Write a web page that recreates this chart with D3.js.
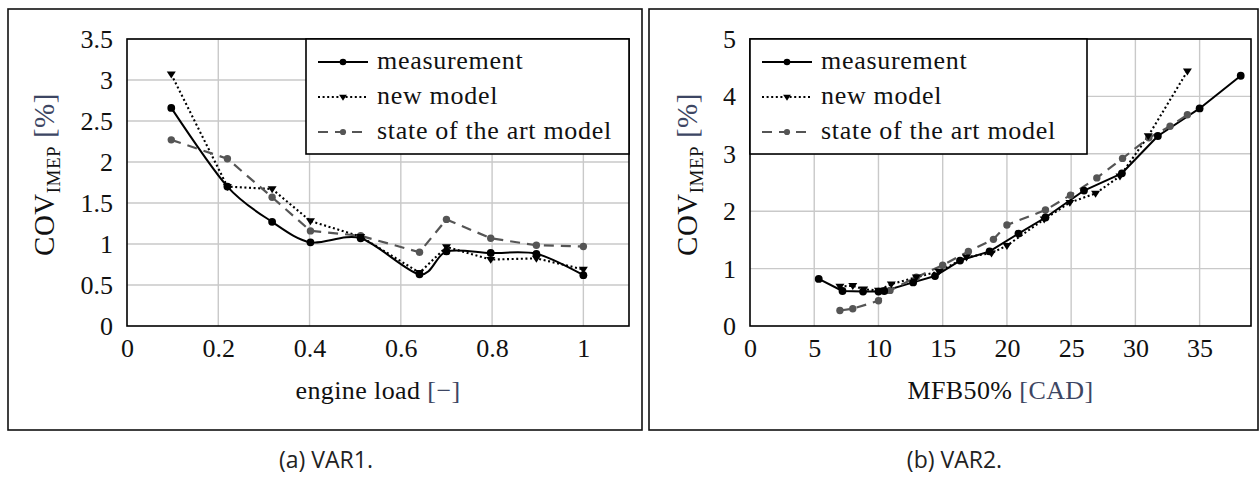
<!DOCTYPE html>
<html>
<head>
<meta charset="utf-8">
<script src="https://cdn.jsdelivr.net/npm/d3@7"></script>
<style>
  html, body { margin: 0; padding: 0; background: #fff; }
  svg { display: block; }
</style>
</head>
<body>
<svg id="fig" width="1260" height="477"></svg>
<script>
// ---- VAR1: COV of IMEP vs. engine load ----
const loadX = [0.097, 0.22, 0.318, 0.402, 0.512, 0.641, 0.70, 0.797, 0.897, 1.0];
const var1Measurement = [2.66, 1.70, 1.27, 1.02, 1.07, 0.63, 0.91, 0.89, 0.88, 0.62];
const var1NewModel    = [3.07, 1.70, 1.67, 1.28, 1.09, 0.65, 0.965, 0.81, 0.825, 0.69];
const var1StateOfArt  = [2.27, 2.04, 1.57, 1.16, 1.10, 0.90, 1.30, 1.07, 0.985, 0.97];
const var1XTicks = [0, 0.2, 0.4, 0.6, 0.8, 1];
const var1YTicks = [0, 0.5, 1, 1.5, 2, 2.5, 3, 3.5];

// ---- VAR2: COV of IMEP vs. MFB50% ----
const var2MeasX = [5.35, 7.2, 8.8, 10.0, 10.45, 12.7, 14.4, 16.35, 18.65, 20.9, 23.0, 26.0, 28.95, 31.75, 35.0, 38.2];
const var2MeasY = [0.82, 0.61, 0.60, 0.60, 0.61, 0.76, 0.87, 1.14, 1.30, 1.61, 1.89, 2.36, 2.66, 3.31, 3.79, 4.36];
const var2NewX  = [7.0, 8.0, 8.85, 10.0, 11.0, 12.95, 14.7, 16.85, 18.8, 20.0, 22.9, 24.9, 26.9, 28.8, 31.0, 34.05];
const var2NewY  = [0.69, 0.70, 0.64, 0.62, 0.73, 0.85, 0.95, 1.20, 1.27, 1.40, 1.86, 2.15, 2.31, 2.61, 3.31, 4.44];
const var2SotaX = [7.0, 8.0, 10.0, 10.9, 12.95, 15.0, 17.0, 18.95, 20.0, 23.0, 24.95, 27.0, 29.0, 31.05, 32.7, 34.05];
const var2SotaY = [0.27, 0.30, 0.44, 0.62, 0.85, 1.06, 1.30, 1.51, 1.76, 2.02, 2.28, 2.58, 2.92, 3.28, 3.48, 3.68];
const var2XTicks = [0, 5, 10, 15, 20, 25, 30, 35];
const var2YTicks = [0, 1, 2, 3, 4, 5];

const seriesNames = ["measurement", "new model", "state of the art model"];

const SERIF = '"Liberation Serif", "Times New Roman", serif';
const SANS = '"Open Sans", "DejaVu Sans", sans-serif';

const svg = d3.select("#fig");
svg.append("rect").attr("width", 1260).attr("height", 477).attr("fill", "#fff");

const GRID = "#c9c9c9";
const SOTA = "#555555";
const UNIT = "#3d4663";

const styles = [
  { stroke: "#000", width: 2, dash: null, marker: "circle", fill: "#000", r: 3.9 },
  { stroke: "#000", width: 2.1, dash: "2,2.6", marker: "tri", fill: "#000", r: 4 },
  { stroke: SOTA, width: 2.2, dash: "10,7", marker: "circle", fill: SOTA, r: 3.7 }
];

function zip(xs, ys) { return xs.map((x, i) => [x, ys[i]]); }

function drawMarker(g, kind, cx, cy, st) {
  if (kind === "circle") {
    g.append("circle").attr("cx", cx).attr("cy", cy).attr("r", st.r).attr("fill", st.fill);
  } else {
    const s = st.r + 0.5;
    g.append("path")
      .attr("d", `M${cx - s},${cy - s * 0.6}L${cx + s},${cy - s * 0.6}L${cx},${cy + s * 0.95}Z`)
      .attr("fill", st.fill);
  }
}

function drawPanel(cfg) {
  const g = svg.append("g");
  // panel frame
  g.append("rect")
    .attr("x", cfg.frame[0]).attr("y", cfg.frame[1])
    .attr("width", cfg.frame[2] - cfg.frame[0]).attr("height", cfg.frame[3] - cfg.frame[1])
    .attr("fill", "none").attr("stroke", "#111").attr("stroke-width", 1.6);

  const x = d3.scaleLinear().domain(cfg.xDomain).range([cfg.left, cfg.right]);
  const y = d3.scaleLinear().domain(cfg.yDomain).range([cfg.bottom, cfg.top]);

  // grid
  g.append("g").selectAll("line").data(cfg.xTicks.filter(t => t > cfg.xDomain[0])).join("line")
    .attr("x1", d => x(d)).attr("x2", d => x(d)).attr("y1", cfg.top).attr("y2", cfg.bottom)
    .attr("stroke", GRID).attr("stroke-width", 1.4);
  g.append("g").selectAll("line").data(cfg.yTicks.filter(t => t > cfg.yDomain[0])).join("line")
    .attr("x1", cfg.left).attr("x2", cfg.right).attr("y1", d => y(d)).attr("y2", d => y(d))
    .attr("stroke", GRID).attr("stroke-width", 1.4);

  // axes (labels only; frame drawn separately)
  const xAxis = d3.axisBottom(x).tickValues(cfg.xTicks).tickSize(0).tickPadding(9)
    .tickFormat(d3.format("~g"));
  const yAxis = d3.axisLeft(y).tickValues(cfg.yTicks).tickSize(0).tickPadding(14)
    .tickFormat(d3.format("~g"));
  const gx = g.append("g").attr("transform", `translate(0,${cfg.bottom})`).call(xAxis);
  const gy = g.append("g").attr("transform", `translate(${cfg.left},0)`).call(yAxis);
  [gx, gy].forEach(a => {
    a.attr("font-family", SERIF).attr("font-size", 26);
    a.select(".domain").remove();
    a.selectAll("text").attr("font-family", SERIF).style("font-family", SERIF)
      .style("font-size", "26px").attr("fill", "#111");
  });
  gx.selectAll("text").attr("dy", "0.85em");
  gy.selectAll("text").attr("dy", "0.33em");

  // series
  const data = cfg.series;
  data.forEach((pts, i) => {
    const st = styles[i];
    const line = d3.line().x(d => x(d[0])).y(d => y(d[1]))
      .curve(cfg.curves[i]);
    g.append("path").attr("d", line(pts)).attr("fill", "none")
      .attr("stroke", st.stroke).attr("stroke-width", st.width)
      .attr("stroke-dasharray", st.dash).attr("stroke-linejoin", "round");
  });
  // markers drawn after lines, state of the art first so black marks sit on top
  [2, 1, 0].forEach(i => {
    const st = styles[i];
    const mg = g.append("g");
    data[i].forEach(d => drawMarker(mg, st.marker, x(d[0]), y(d[1]), st));
  });

  // plot frame
  g.append("rect").attr("x", cfg.left).attr("y", cfg.top)
    .attr("width", cfg.right - cfg.left).attr("height", cfg.bottom - cfg.top)
    .attr("fill", "none").attr("stroke", "#000").attr("stroke-width", 1.6);

  // legend
  const L = cfg.legend;
  g.append("rect").attr("x", L.x0).attr("y", cfg.top).attr("width", L.x1 - L.x0)
    .attr("height", L.y1 - cfg.top).attr("fill", "#fff")
    .attr("stroke", "#000").attr("stroke-width", 1.6);
  seriesNames.forEach((name, i) => {
    const st = styles[i];
    const cy = L.rows[i];
    const sx0 = L.x0 + 12, sx1 = L.x0 + 62, mx = (sx0 + sx1) / 2;
    g.append("line").attr("x1", sx0).attr("x2", sx1).attr("y1", cy).attr("y2", cy)
      .attr("stroke", st.stroke).attr("stroke-width", st.width)
      .attr("stroke-dasharray", st.dash);
    drawMarker(g, st.marker, mx, cy, Object.assign({}, st, { r: st.r - 0.6 }));
    g.append("text").attr("x", L.x0 + 71).attr("y", cy + 7)
      .style("font-family", SERIF).style("font-size", "26px")
      .attr("letter-spacing", 0.7).attr("fill", "#111").text(name);
  });

  // x axis title
  const xt = g.append("text").style("font-family", SERIF).style("font-size", "26px").attr("fill", "#111")
    .attr("letter-spacing", 0.4)
    .attr("text-anchor", "middle").attr("x", (cfg.left + cfg.right) / 2).attr("y", 399);
  xt.append("tspan").text(cfg.xTitle + " ");
  xt.append("tspan").attr("fill", UNIT).text(cfg.xUnit);

  // y axis title
  const yt = g.append("text").style("font-family", SERIF).style("font-size", "29px").attr("fill", "#111")
    .attr("letter-spacing", 0.5)
    .attr("text-anchor", "middle")
    .attr("transform", `translate(${cfg.yTitleX},${(cfg.top + cfg.bottom) / 2 - 8}) rotate(-90)`);
  yt.append("tspan").text("COV");
  yt.append("tspan").style("font-size", "19px").attr("dy", 6).text("IMEP");
  yt.append("tspan").attr("dy", -6).attr("fill", UNIT).text(" [%]");

  // caption
  g.append("text").style("font-family", SANS).style("font-size", "23px").attr("fill", "#222")
    .attr("text-anchor", "middle").attr("x", (cfg.frame[0] + cfg.frame[2]) / 2 + 1).attr("y", 468)
    .text(cfg.caption);
}

const smooth = d3.curveCardinal.tension(0.1);

drawPanel({
  frame: [8, 9, 642, 430],
  left: 127, right: 629, top: 39, bottom: 326,
  xDomain: [0, 1.1], yDomain: [0, 3.5],
  xTicks: var1XTicks, yTicks: var1YTicks,
  series: [zip(loadX, var1Measurement), zip(loadX, var1NewModel), zip(loadX, var1StateOfArt)],
  curves: [smooth, d3.curveLinear, d3.curveLinear],
  legend: { x0: 306, x1: 629, y1: 154, rows: [62, 97, 132] },
  xTitle: "engine load", xUnit: "[\u2212]",
  yTitleX: 54,
  caption: "(a) VAR1."
});

drawPanel({
  frame: [649, 9, 1258, 430],
  left: 750, right: 1251, top: 39, bottom: 326,
  xDomain: [0, 39], yDomain: [0, 5],
  xTicks: var2XTicks, yTicks: var2YTicks,
  series: [zip(var2MeasX, var2MeasY), zip(var2NewX, var2NewY), zip(var2SotaX, var2SotaY)],
  curves: [d3.curveLinear, d3.curveLinear, d3.curveLinear],
  legend: { x0: 750, x1: 1087, y1: 154, rows: [62, 97, 132] },
  xTitle: "MFB50%", xUnit: "[CAD]",
  yTitleX: 697,
  caption: "(b) VAR2."
});
</script>
</body>
</html>
